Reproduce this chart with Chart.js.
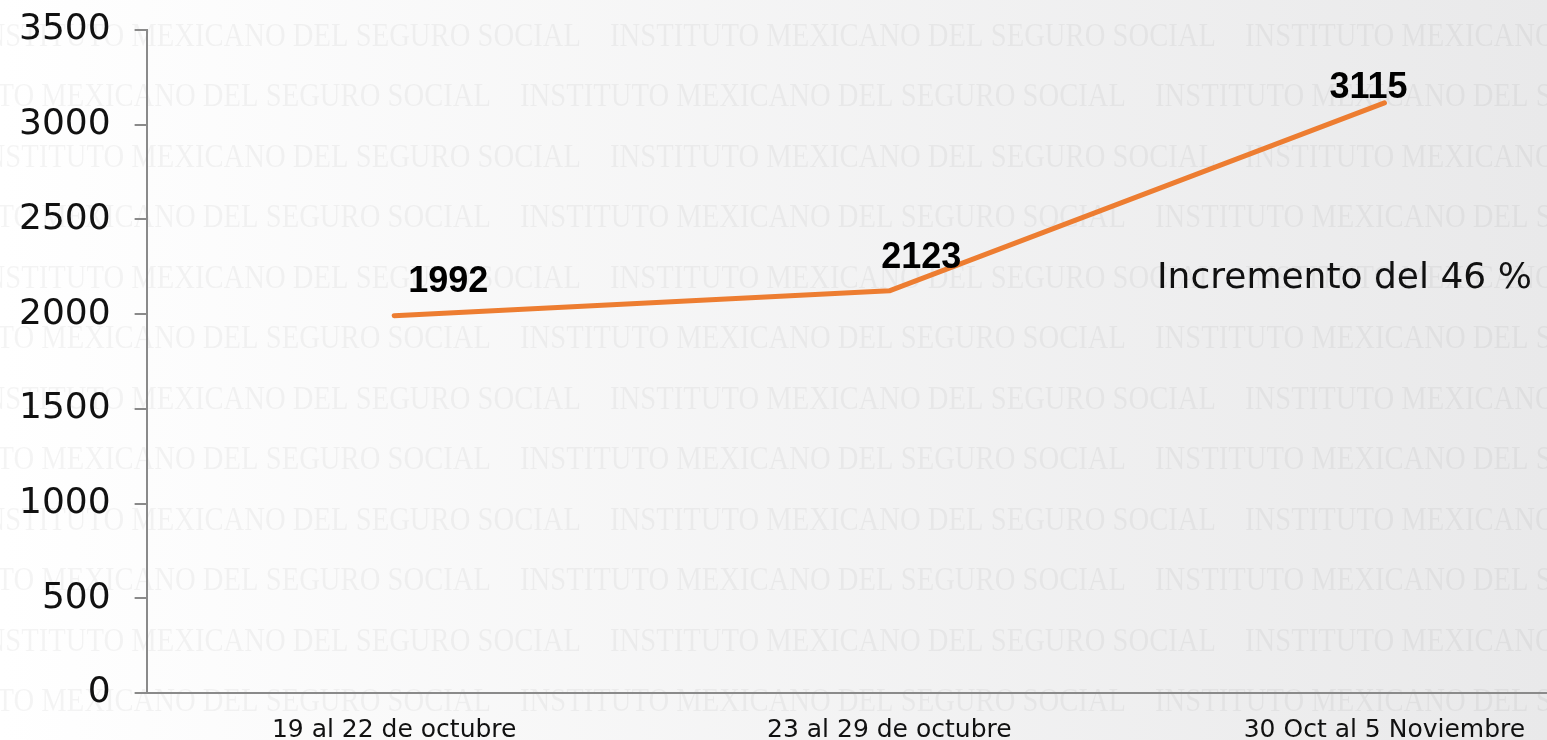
<!DOCTYPE html>
<html>
<head>
<meta charset="utf-8">
<script src="https://cdn.jsdelivr.net/npm/chart.js@4/dist/chart.umd.min.js"></script>
<style>
  html, body { margin: 0; padding: 0; background: #fff; }
  #wrap { position: relative; width: 1547px; height: 740px; overflow: hidden; }
  canvas { display: block; }
</style>
</head>
<body>
<div id="wrap"><canvas id="c" width="1640" height="740"></canvas></div>
<script>
// ---- data ----
const categories = ["19 al 22 de octubre", "23 al 29 de octubre", "30 Oct al 5 Noviembre"];
const casos = [1992, 2123, 3115];
const yTicks = [0, 500, 1000, 1500, 2000, 2500, 3000, 3500];
const noteText = "Incremento del 46 %";
const watermarkText = "INSTITUTO MEXICANO DEL SEGURO SOCIAL";

// label placement (style, not data)
const labelOffsets = [[54, -24], [32, -23], [-16, -5]];

const bgPlugin = {
  id: 'bg',
  beforeDraw(chart) {
    const ctx = chart.ctx;
    const w = chart.width, h = chart.height;
    ctx.save();
    const g = ctx.createLinearGradient(0, 0, 1547, 0);
    g.addColorStop(0, '#ffffff');
    g.addColorStop(1, '#e9e9ea');
    ctx.fillStyle = g;
    ctx.fillRect(0, 0, w, h);
    // watermark
    ctx.font = '33px "Liberation Serif"';
    ctx.fillStyle = 'rgba(0,0,0,0.045)';
    ctx.textBaseline = 'middle';
    const tw = ctx.measureText(watermarkText).width;
    const sx = 606 / tw;
    for (let r = 0; r < 12; r++) {
      const y = 37 + r * 60.5;
      let x = (r % 2 === 0) ? -25 : -115;
      for (; x < w; x += 635) {
        ctx.save();
        ctx.translate(x, y);
        ctx.scale(sx, 1);
        ctx.fillText(watermarkText, 0, 0);
        ctx.restore();
      }
    }
    ctx.restore();
  }
};

const labelPlugin = {
  id: 'vlabels',
  afterDatasetsDraw(chart) {
    const ctx = chart.ctx;
    const meta = chart.getDatasetMeta(0);
    ctx.save();
    ctx.font = 'bold 36px "Liberation Sans"';
    ctx.fillStyle = '#000';
    ctx.textAlign = 'center';
    ctx.textBaseline = 'alphabetic';
    meta.data.forEach((pt, i) => {
      const off = labelOffsets[i] || [0, -10];
      ctx.fillText(String(casos[i]), pt.x + off[0], pt.y + off[1]);
    });
    // note
    ctx.font = '36px "DejaVu Sans"';
    ctx.textAlign = 'left';
    ctx.fillStyle = '#111';
    ctx.fillText(noteText, 1157, 288);
    ctx.restore();
  }
};

new Chart(document.getElementById('c'), {
  type: 'line',
  data: {
    labels: categories,
    datasets: [{
      data: casos,
      borderColor: '#ED7D31',
      borderWidth: 5,
      borderCapStyle: 'round',
      borderJoinStyle: 'round',
      pointRadius: 0,
      tension: 0,
      fill: false
    }]
  },
  options: {
    responsive: false,
    animation: false,
    layout: { padding: { top: 30, left: -5, right: 8, bottom: -28 } },
    plugins: { legend: { display: false }, tooltip: { enabled: false } },
    scales: {
      x: {
        offset: true,
        grid: { drawOnChartArea: false, drawTicks: false },
        border: { display: true, color: '#8a8a8a', width: 2 },
        ticks: {
          color: '#111',
          font: { family: '"DejaVu Sans"', size: 25, lineHeight: 1.0 },
          padding: 25,
          maxRotation: 0,
          autoSkip: false
        }
      },
      y: {
        min: 0,
        max: 3500,
        afterBuildTicks(scale) { scale.ticks = yTicks.map(v => ({ value: v })); },
        grid: { drawOnChartArea: false, drawTicks: true, tickLength: 12, color: '#8a8a8a', lineWidth: 2 },
        border: { display: true, color: '#8a8a8a', width: 2 },
        ticks: {
          color: '#111',
          font: { family: '"DejaVu Sans"', size: 36, lineHeight: 0.1 },
          padding: 24,
          callback: (v) => String(v)
        }
      }
    }
  },
  plugins: [bgPlugin, labelPlugin]
});
</script>
</body>
</html>
